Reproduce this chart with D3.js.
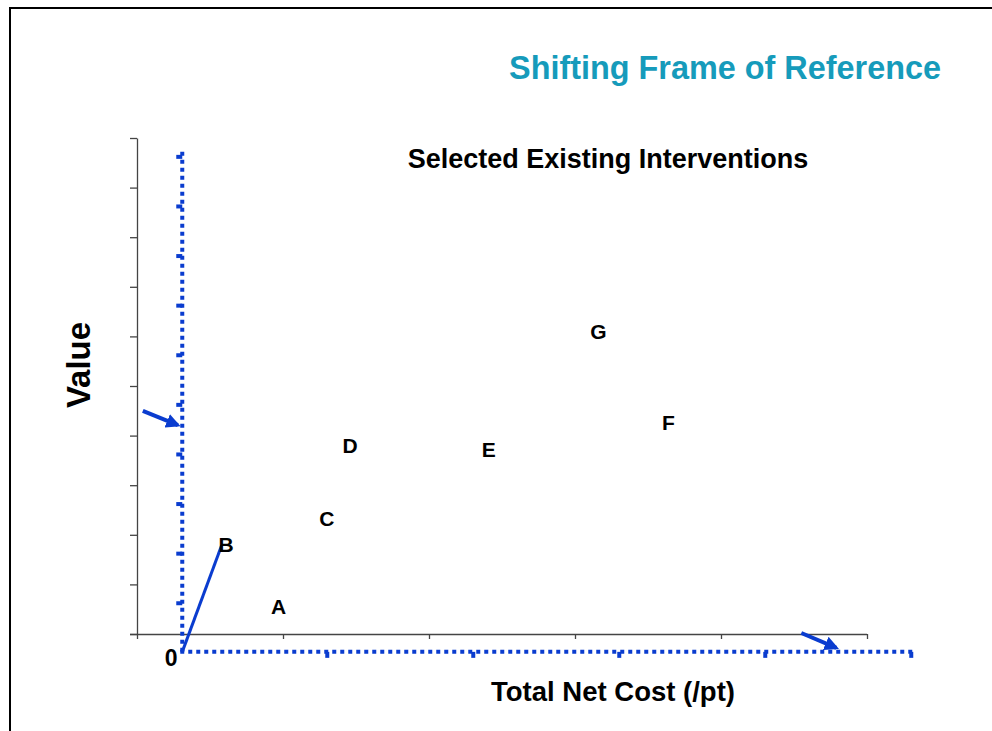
<!DOCTYPE html>
<html>
  <head>
    <meta charset="utf-8">
    <script src="https://d3js.org/d3.v7.min.js"></script>
    <style>
      body { margin: 0; background: #fff; }
      svg text { font-family: "Liberation Sans", Arial, sans-serif; font-weight: bold; }
    </style>
  </head>
  <body>
    <div id="chart"></div>
    <script>
      // interventions (units of the original black grid)
      const labels = ['A', 'B', 'C', 'D', 'E', 'F', 'G']
      const costs  = [0.97, 0.61, 1.30, 1.46, 2.41, 3.64, 3.16]
      const values = [0.56, 1.81, 2.32, 3.81, 3.73, 4.27, 6.11]

      const xTicks = [0, 1, 2, 3, 4, 5]
      const yTicks = [0, 1, 2, 3, 4, 5, 6, 7, 8, 9, 10]

      // shifted frame origin, and where the old point B moves from
      const shift = [0.31, -0.36]
      const lineToB = [0.58, 1.79]
      // arrows pointing at the shifted axes [x1, y1, x2, y2]
      const arrows = [[0.04, 4.50, 0.28, 4.21], [4.55, 0.02, 4.79, -0.28]]

      const W = 992, H = 731
      const blue = '#0a3ccf'

      const svg = d3.select('#chart').append('svg')
        .attr('width', W).attr('height', H)

      // slide frame
      svg.append('path')
        .attr('d', `M10,${H} L10,8 L${W},8`)
        .attr('fill', 'none').attr('stroke', '#000').attr('stroke-width', 2)

      const x = d3.scaleLinear().domain([0, 5]).range([137, 867])
      const y = d3.scaleLinear().domain([0, 10]).range([634, 138])

      svg.append('defs').append('marker')
        .attr('id', 'head')
        .attr('viewBox', '0 0 10 10')
        .attr('refX', 8).attr('refY', 5)
        .attr('markerWidth', 3.6).attr('markerHeight', 3.6)
        .attr('orient', 'auto')
        .append('path').attr('d', 'M0,0 L10,5 L0,10 Z').attr('fill', blue)

      // original black axes
      const gx = svg.append('g')
        .attr('transform', `translate(0,${y(0)})`)
        .call(d3.axisBottom(x).tickValues(xTicks).tickSize(5).tickSizeOuter(0).tickFormat(''))
      const gy = svg.append('g')
        .attr('transform', `translate(${x(0)},0)`)
        .call(d3.axisLeft(y).tickValues(yTicks).tickSize(7).tickSizeOuter(0).tickFormat(''))
      svg.selectAll('.domain, .tick line').attr('stroke', '#444').attr('stroke-width', 1.3)
      gx.select('.domain').attr('d', `M${x(0) - 7},0.5H${x(5)}`)

      // shifted (dotted blue) frame of reference
      const ox = x(shift[0]), oy = y(shift[1])
      const bx = d3.scaleLinear().domain([0, 5]).range([ox, x(5 + shift[0])])
      const by = d3.scaleLinear().domain([0, 10]).range([oy, y(10 + shift[1])])
      const blueFrame = svg.append('g')
      blueFrame.append('line')
        .attr('x1', ox).attr('y1', oy).attr('x2', ox).attr('y2', by(10) - 4)
        .attr('stroke-dasharray', '4,4')
      blueFrame.append('line')
        .attr('x1', ox - 2).attr('y1', oy).attr('x2', bx(5) + 2).attr('y2', oy)
        .attr('stroke-dasharray', '4,4')
      blueFrame.selectAll('line.yt').data(yTicks.slice(1)).join('line')
        .attr('class', 'yt')
        .attr('x1', ox - 6).attr('x2', ox).attr('y1', d => by(d) + 1).attr('y2', d => by(d) + 1)
      blueFrame.selectAll('line.xt').data(xTicks.slice(1)).join('line')
        .attr('class', 'xt')
        .attr('y1', oy).attr('y2', oy + 6).attr('x1', d => bx(d) - 1).attr('x2', d => bx(d) - 1)
      blueFrame.selectAll('line')
        .attr('stroke', blue).attr('stroke-width', 4)

      // point B carried over into the new frame
      svg.append('line')
        .attr('x1', ox).attr('y1', oy)
        .attr('x2', x(lineToB[0])).attr('y2', y(lineToB[1]))
        .attr('stroke', blue).attr('stroke-width', 3)

      svg.selectAll('line.arrow').data(arrows).join('line')
        .attr('class', 'arrow')
        .attr('x1', d => x(d[0])).attr('y1', d => y(d[1]))
        .attr('x2', d => x(d[2])).attr('y2', d => y(d[3]))
        .attr('stroke', blue).attr('stroke-width', 4)
        .attr('marker-end', 'url(#head)')

      // point labels
      svg.selectAll('text.pt').data(labels).join('text')
        .attr('class', 'pt')
        .attr('x', (d, i) => x(costs[i]))
        .attr('y', (d, i) => y(values[i]))
        .attr('dy', '0.36em')
        .attr('text-anchor', 'middle')
        .attr('font-size', 21)
        .text(d => d)

      svg.append('text')
        .attr('x', ox - 11).attr('y', oy + 14)
        .attr('text-anchor', 'middle').attr('font-size', 23)
        .text('0')

      svg.append('text')
        .attr('x', 941).attr('y', 79)
        .attr('text-anchor', 'end').attr('font-size', 32.4)
        .attr('fill', '#169bbb')
        .text('Shifting Frame of Reference')

      svg.append('text')
        .attr('x', 608).attr('y', 168)
        .attr('text-anchor', 'middle').attr('font-size', 27)
        .text('Selected Existing Interventions')

      svg.append('text')
        .attr('transform', 'translate(90,365) rotate(-90)')
        .attr('text-anchor', 'middle').attr('font-size', 33)
        .text('Value')

      svg.append('text')
        .attr('x', 613).attr('y', 701)
        .attr('text-anchor', 'middle').attr('font-size', 27.5)
        .text('Total Net Cost (/pt)')
    </script>
  </body>
</html>
